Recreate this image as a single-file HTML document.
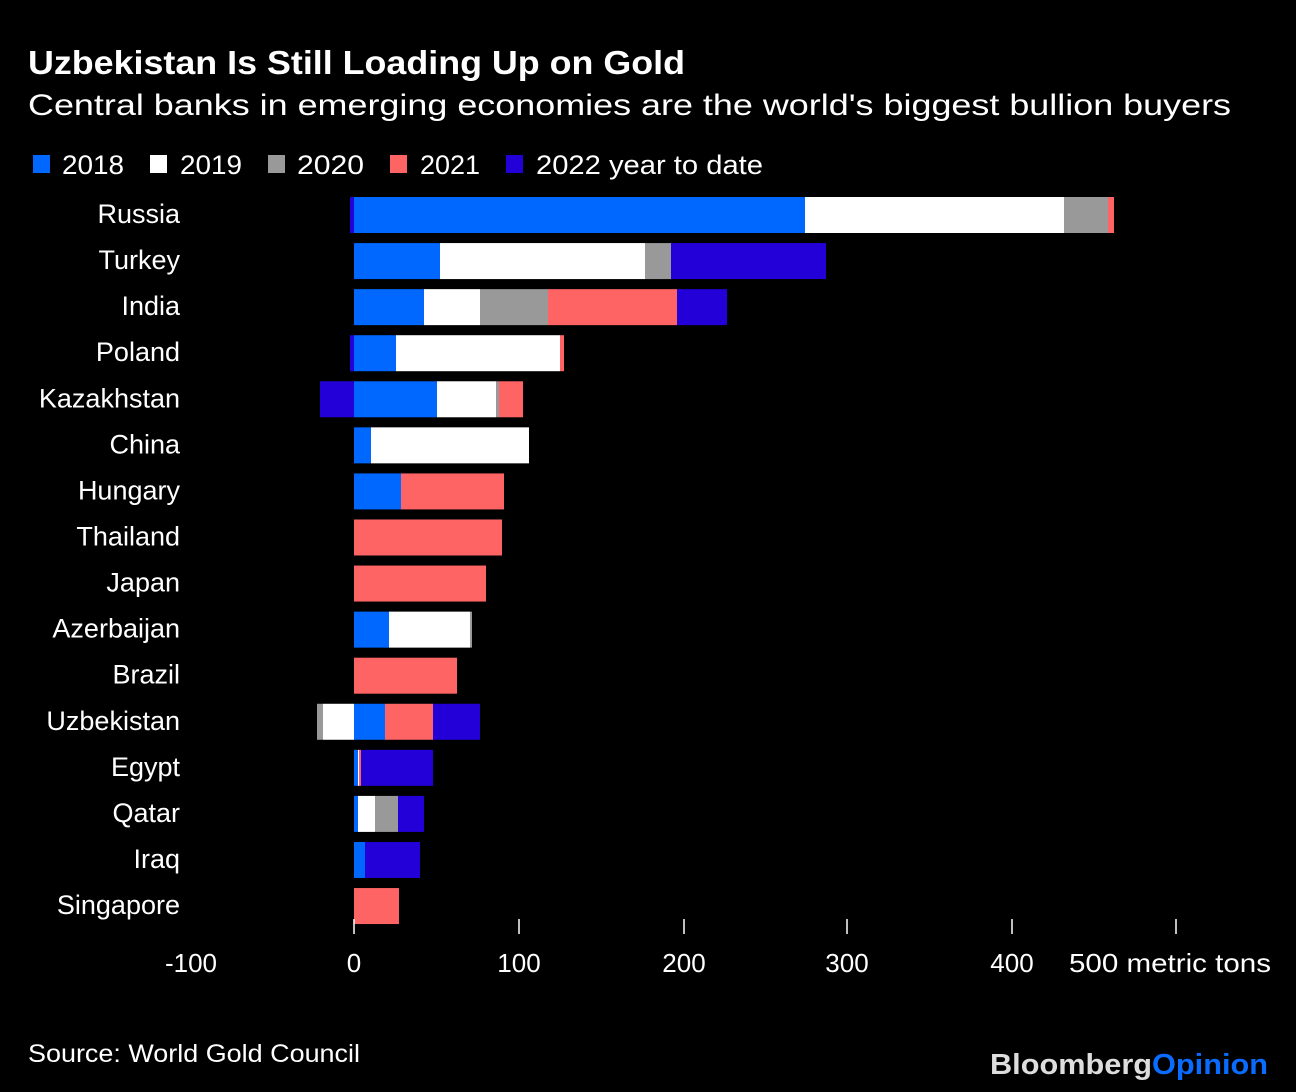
<!DOCTYPE html>
<html><head><meta charset="utf-8"><style>
html,body{margin:0;padding:0;background:#000;}
svg{display:block;font-family:"Liberation Sans",Arial,sans-serif;}
</style></head><body>
<svg width="1296" height="1092" viewBox="0 0 1296 1092" xmlns="http://www.w3.org/2000/svg">
<rect width="1296" height="1092" fill="#000"/>
<text x="28" y="74" fill="#fff" font-size="33" font-weight="bold" textLength="657" lengthAdjust="spacingAndGlyphs">Uzbekistan Is Still Loading Up on Gold</text>
<text x="28" y="115" fill="#fff" font-size="30" textLength="1203" lengthAdjust="spacingAndGlyphs">Central banks in emerging economies are the world's biggest bullion buyers</text>
<g font-size="27" fill="#fff">
<rect x="33" y="155" width="17" height="18" fill="#0068ff"/><text x="62" y="174" textLength="62" lengthAdjust="spacingAndGlyphs">2018</text>
<rect x="150" y="155" width="17" height="18" fill="#fff"/><text x="180" y="174" textLength="62" lengthAdjust="spacingAndGlyphs">2019</text>
<rect x="268" y="155" width="17" height="18" fill="#999"/><text x="297" y="174" textLength="67" lengthAdjust="spacingAndGlyphs">2020</text>
<rect x="390" y="155" width="17" height="18" fill="#ff6464"/><text x="420" y="174" textLength="60" lengthAdjust="spacingAndGlyphs">2021</text>
<rect x="506" y="155" width="17" height="18" fill="#2400d8"/><text x="536" y="174" textLength="227" lengthAdjust="spacingAndGlyphs">2022 year to date</text>
</g>
<g id="bars"></g>
<g font-size="27" fill="#fff" text-anchor="end" id="labels"></g>
<g stroke="#fff" stroke-width="1.5">
<line x1="354" y1="919" x2="354" y2="934"/><line x1="519" y1="919" x2="519" y2="934"/><line x1="684" y1="919" x2="684" y2="934"/><line x1="847" y1="919" x2="847" y2="934"/><line x1="1012" y1="919" x2="1012" y2="934"/><line x1="1176" y1="919" x2="1176" y2="934"/>
</g>
<g font-size="26" fill="#fff" text-anchor="middle">
<text x="191" y="972">-100</text><text x="354" y="972">0</text><text x="519" y="972">100</text><text x="684" y="972">200</text><text x="847" y="972">300</text><text x="1012" y="972">400</text>
<text x="1069" y="972" text-anchor="start" textLength="202" lengthAdjust="spacingAndGlyphs">500 metric tons</text>
</g>
<text x="28" y="1062" fill="#fff" font-size="25" textLength="332" lengthAdjust="spacingAndGlyphs">Source: World Gold Council</text>
<text x="990" y="1074" font-size="29" font-weight="bold" textLength="278" lengthAdjust="spacingAndGlyphs"><tspan fill="#ddd">Bloomberg</tspan><tspan fill="#0a6cff">Opinion</tspan></text>
<script>
var C={b:"#0068ff",w:"#ffffff",g:"#999999",r:"#ff6464",p:"#2400d8"};
var rows=[
["Russia",[["p",350,354],["b",354,805],["w",805,1064],["g",1064,1108],["r",1108,1114]]],
["Turkey",[["b",354,440],["w",440,645],["g",645,671],["p",671,826]]],
["India",[["b",354,424],["w",424,480],["g",480,548],["r",548,677],["p",677,727]]],
["Poland",[["p",350,354],["b",354,396],["w",396,560],["r",560,564]]],
["Kazakhstan",[["p",320,354],["b",354,437],["w",437,496],["g",496,499],["r",499,523]]],
["China",[["b",354,371],["w",371,529]]],
["Hungary",[["b",354,401],["r",401,504]]],
["Thailand",[["r",354,502]]],
["Japan",[["r",354,486]]],
["Azerbaijan",[["b",354,389],["w",389,470],["g",470,472]]],
["Brazil",[["r",354,457]]],
["Uzbekistan",[["g",317,323],["w",323,354],["b",354,385],["r",385,433],["p",433,480]]],
["Egypt",[["b",354,358],["w",358,359],["r",359,361],["p",361,433]]],
["Qatar",[["b",354,358],["w",358,375],["g",375,398],["p",398,424]]],
["Iraq",[["b",354,365],["p",365,420]]],
["Singapore",[["r",354,399]]]];
var ns="http://www.w3.org/2000/svg",bg=document.getElementById("bars"),lg=document.getElementById("labels");
rows.forEach(function(r,i){var y=197+i*46.07;
r[1].forEach(function(s){var e=document.createElementNS(ns,"rect");e.setAttribute("x",s[1]);e.setAttribute("y",y);e.setAttribute("width",s[2]-s[1]);e.setAttribute("height",36);e.setAttribute("fill",C[s[0]]);bg.appendChild(e);});
var t=document.createElementNS(ns,"text");t.setAttribute("x",180);t.setAttribute("y",y+26);t.textContent=r[0];lg.appendChild(t);});
</script>
</svg>
</body></html>
